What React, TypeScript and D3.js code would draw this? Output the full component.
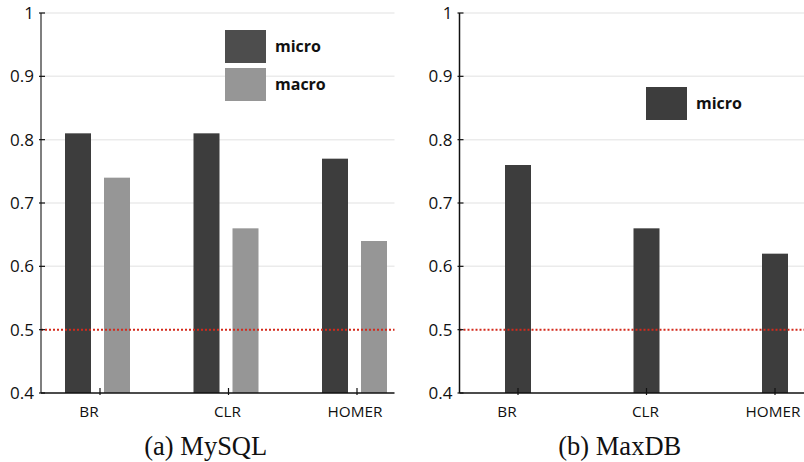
import * as React from "react";
import * as d3 from "d3";

const categories = ["BR", "CLR", "HOMER"];
const mysqlMicro = [0.81, 0.81, 0.77];
const mysqlMacro = [0.74, 0.66, 0.64];
const maxdbMicro = [0.76, 0.66, 0.62];
const yTicks = [0.4, 0.5, 0.6, 0.7, 0.8, 0.9, 1];
const gridTicks = [0.6, 0.7, 0.8, 0.9, 1];
const threshold = 0.5;

const DARK = "#3d3d3d";
const LIGHT = "#969696";
const FONT = "'Open Sans', 'DejaVu Sans', sans-serif";

const y = d3.scaleLinear().domain([0.4, 1]).range([393, 13]);
const labelDx = [-11, -1, -2];

const Panel = (props) => {
  const { left, right, tickRange, series, legend, legendX, legendY, caption, axisColor } = props;
  const x = d3.scalePoint().domain(categories).range(tickRange);
  const fmt = (d) => (d === 1 ? "1" : d3.format(".1f")(d));

  return (
    <g>
      {gridTicks.map((t) => (
        <line key={t} x1={left} x2={right} y1={y(t)} y2={y(t)} stroke="#ebebeb" strokeWidth={1.5} />
      ))}
      {series.map((s, si) =>
        s.values.map((v, i) => (
          <rect
            key={si + "-" + i}
            x={x(categories[i]) + s.dx}
            y={y(v)}
            width={26}
            height={y(0.4) - y(v)}
            fill={s.color}
          />
        ))
      )}
      <line x1={left} x2={right} y1={y(threshold)} y2={y(threshold)} stroke="#d42a1c" strokeWidth={2} strokeDasharray="2,2" />
      <line x1={left} x2={left} y1={y(1)} y2={y(0.4)} stroke={axisColor} strokeWidth={1.5} />
      <line x1={left} x2={right} y1={y(0.4)} y2={y(0.4)} stroke="#111" strokeWidth={1.5} />
      {yTicks.map((t) => (
        <g key={t}>
          <line x1={left - 2} x2={left + 4} y1={y(t)} y2={y(t)} stroke="#111" strokeWidth={1.2} />
          <text x={left - 7} y={y(t)} dy="0.36em" textAnchor="end" fontFamily={FONT} fontSize={17} fill="#111">
            {fmt(t)}
          </text>
        </g>
      ))}
      {categories.map((c, i) => (
        <g key={c}>
          <line x1={x(c)} x2={x(c)} y1={y(0.4) - 5} y2={y(0.4) + 2} stroke="#111" strokeWidth={1.2} />
          <text x={x(c) + labelDx[i]} y={y(0.4) + 24} textAnchor="middle" fontFamily={FONT} fontSize={15.3} fill="#111">
            {c}
          </text>
        </g>
      ))}
      {legend.map((l, i) => (
        <g key={l.name} transform={`translate(${legendX},${legendY + i * 38})`}>
          <rect x={0} y={0} width={41} height={33} fill={l.color} />
          <text x={50} y={16.5} dy="0.35em" fontFamily={FONT} fontWeight="bold" fontSize={16} fill="#111">
            {l.name}
          </text>
        </g>
      ))}
      <text
        x={(left + right) / 2 - 12}
        y={455}
        textAnchor="middle"
        fontFamily="'Liberation Serif', 'DejaVu Serif', serif"
        fontSize={26.5}
        fill="#111"
      >
        {caption}
      </text>
    </g>
  );
};

export default function App() {
  return (
    <svg width={804} height={462} style={{ position: "absolute", left: 0, top: 0 }}>
      <rect width={804} height={462} fill="#fff" />
      <Panel
        left={41}
        right={394.5}
        tickRange={[100, 357]}
        series={[
          { values: mysqlMicro, color: DARK, dx: -35 },
          { values: mysqlMacro, color: LIGHT, dx: 4 },
        ]}
        legend={[
          { name: "micro", color: "#4d4d4d" },
          { name: "macro", color: LIGHT },
        ]}
        legendX={225}
        legendY={30}
        caption="(a) MySQL"
        axisColor="#555"
      />
      <Panel
        left={459.5}
        right={804}
        tickRange={[518, 775]}
        series={[{ values: maxdbMicro, color: DARK, dx: -13 }]}
        legend={[{ name: "micro", color: DARK }]}
        legendX={646}
        legendY={87}
        caption="(b) MaxDB"
        axisColor="#111"
      />
    </svg>
  );
}
